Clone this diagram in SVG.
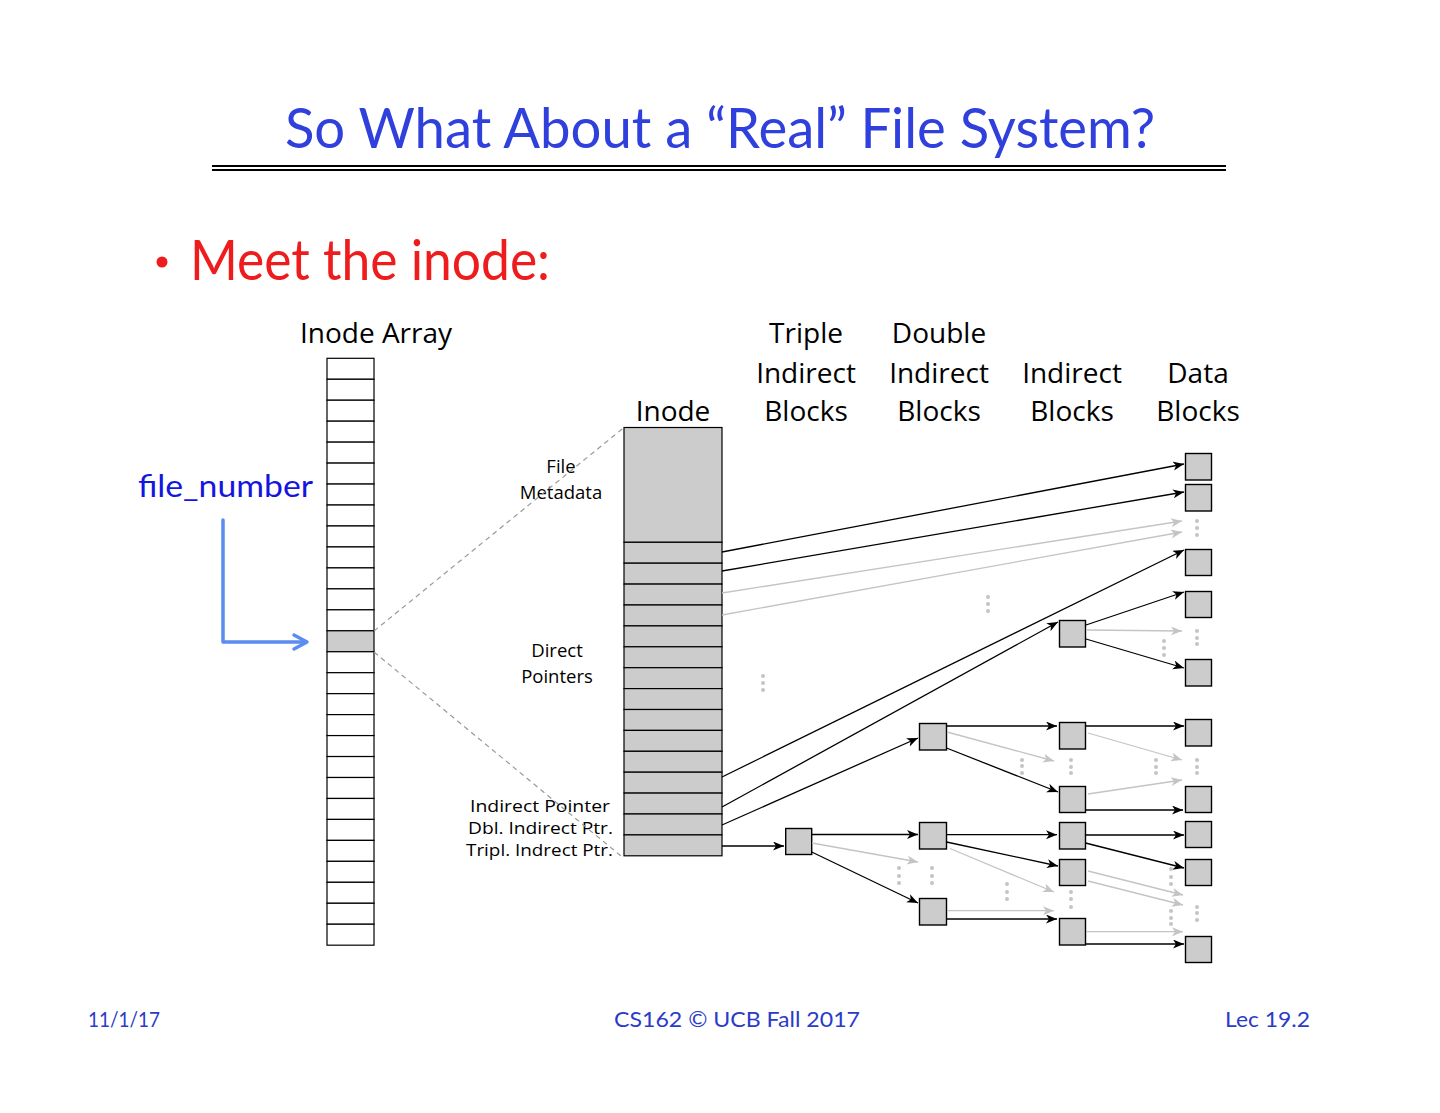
<svg xmlns="http://www.w3.org/2000/svg" width="1440" height="1113" viewBox="0 0 1440 1113">
<style>
.bg{fill:#ffffff}
.title{font-family:"Gill Sans","Gill Sans MT","Lato",sans-serif;fill:#3040dc}
.bullet{font-family:"Gill Sans","Gill Sans MT","Lato",sans-serif;fill:#ee1c1c}
.foot{font-family:"Gill Sans","Gill Sans MT","Lato",sans-serif;fill:#2b3bc8;font-size:22px}
.hdr{font-family:"Open Sans","Noto Sans",sans-serif;font-size:28px;fill:#000;text-anchor:middle}
.lbl{font-family:"Open Sans","Noto Sans",sans-serif;font-size:18.5px;fill:#000}
.lbs{font-family:"Open Sans","Noto Sans",sans-serif;font-size:16px;fill:#000}
.cell{fill:#ffffff;stroke:#000;stroke-width:1.2}
.gcell{fill:#cccccc;stroke:#000;stroke-width:1.2}
.blk{fill:#cccccc;stroke:#000;stroke-width:1.4}
.ln{stroke:#000;stroke-width:1.3;fill:none;marker-end:url(#ah)}
.gl{stroke:#c4c4c4;stroke-width:1.3;fill:none;marker-end:url(#ahg)}
.dash{stroke:#999;stroke-width:1.2;stroke-dasharray:5 4;fill:none}
.dot{fill:#c4c4c4}
.blue{stroke:#5b8cf0;stroke-width:3.5;fill:none;stroke-linecap:round;stroke-linejoin:round}
</style>
<defs>
<marker id="ah" markerUnits="userSpaceOnUse" markerWidth="12" markerHeight="10" refX="11" refY="4.5" orient="auto">
<path d="M0,0 L11,4.5 L0,9 L3,4.5 z" fill="#000"/>
</marker>
<marker id="ahg" markerUnits="userSpaceOnUse" markerWidth="12" markerHeight="10" refX="11" refY="4.5" orient="auto">
<path d="M0,0 L11,4.5 L0,9 L3,4.5 z" fill="#c4c4c4"/>
</marker>
</defs>
<rect class="bg" x="0" y="0" width="1440" height="1113"/>

<!-- Title -->
<text class="title" x="720" y="148" font-size="56" text-anchor="middle" textLength="870" lengthAdjust="spacingAndGlyphs">So What About a “Real” File System?</text>
<line x1="212" y1="166" x2="1226" y2="166" stroke="#000" stroke-width="1.8"/>
<line x1="212" y1="170" x2="1226" y2="170" stroke="#000" stroke-width="1.8"/>

<!-- Bullet -->
<circle cx="162" cy="262" r="5.5" fill="#ee1c1c"/>
<text class="bullet" x="190" y="280" font-size="56" textLength="360" lengthAdjust="spacingAndGlyphs">Meet the inode:</text>

<!-- Column headers -->
<text class="hdr" x="376" y="343">Inode Array</text>
<text class="hdr" x="673" y="421">Inode</text>
<text class="hdr" x="806" y="343">Triple</text>
<text class="hdr" x="806" y="383">Indirect</text>
<text class="hdr" x="806" y="421">Blocks</text>
<text class="hdr" x="939" y="343">Double</text>
<text class="hdr" x="939" y="383">Indirect</text>
<text class="hdr" x="939" y="421">Blocks</text>
<text class="hdr" x="1072" y="383">Indirect</text>
<text class="hdr" x="1072" y="421">Blocks</text>
<text class="hdr" x="1198" y="383">Data</text>
<text class="hdr" x="1198" y="421">Blocks</text>

<!-- file_number -->
<g id="file-number">
<text class="title" x="138" y="497" font-size="30" style="fill:#1515e0" textLength="175" lengthAdjust="spacingAndGlyphs">file_number</text>
<path class="blue" d="M223,520 V642 H305"/>
<polyline class="blue" points="294,635 307,642 294,649"/>
</g>

<!-- Inode array -->
<g id="inode-array">
<rect class="cell" x="327" y="358.3" width="47" height="20.96"/>
<rect class="cell" x="327" y="379.26" width="47" height="20.96"/>
<rect class="cell" x="327" y="400.22" width="47" height="20.96"/>
<rect class="cell" x="327" y="421.18" width="47" height="20.96"/>
<rect class="cell" x="327" y="442.14" width="47" height="20.96"/>
<rect class="cell" x="327" y="463.1" width="47" height="20.96"/>
<rect class="cell" x="327" y="484.06" width="47" height="20.96"/>
<rect class="cell" x="327" y="505.02" width="47" height="20.96"/>
<rect class="cell" x="327" y="525.98" width="47" height="20.96"/>
<rect class="cell" x="327" y="546.94" width="47" height="20.96"/>
<rect class="cell" x="327" y="567.9" width="47" height="20.96"/>
<rect class="cell" x="327" y="588.86" width="47" height="20.96"/>
<rect class="cell" x="327" y="609.82" width="47" height="20.96"/>
<rect class="gcell" x="327" y="630.78" width="47" height="20.96"/>
<rect class="cell" x="327" y="651.74" width="47" height="20.96"/>
<rect class="cell" x="327" y="672.7" width="47" height="20.96"/>
<rect class="cell" x="327" y="693.66" width="47" height="20.96"/>
<rect class="cell" x="327" y="714.62" width="47" height="20.96"/>
<rect class="cell" x="327" y="735.58" width="47" height="20.96"/>
<rect class="cell" x="327" y="756.54" width="47" height="20.96"/>
<rect class="cell" x="327" y="777.5" width="47" height="20.96"/>
<rect class="cell" x="327" y="798.46" width="47" height="20.96"/>
<rect class="cell" x="327" y="819.42" width="47" height="20.96"/>
<rect class="cell" x="327" y="840.38" width="47" height="20.96"/>
<rect class="cell" x="327" y="861.34" width="47" height="20.96"/>
<rect class="cell" x="327" y="882.3" width="47" height="20.96"/>
<rect class="cell" x="327" y="903.26" width="47" height="20.96"/>
<rect class="cell" x="327" y="924.22" width="47" height="20.96"/>
</g>

<!-- Inode -->
<g id="inode">
<rect class="gcell" x="624" y="427.5" width="98" height="114.8"/>
<rect class="gcell" x="624" y="542.3" width="98" height="20.9"/>
<rect class="gcell" x="624" y="563.2" width="98" height="20.9"/>
<rect class="gcell" x="624" y="584.1" width="98" height="20.9"/>
<rect class="gcell" x="624" y="605" width="98" height="20.9"/>
<rect class="gcell" x="624" y="625.9" width="98" height="20.9"/>
<rect class="gcell" x="624" y="646.8" width="98" height="20.9"/>
<rect class="gcell" x="624" y="667.7" width="98" height="20.9"/>
<rect class="gcell" x="624" y="688.6" width="98" height="20.9"/>
<rect class="gcell" x="624" y="709.5" width="98" height="20.9"/>
<rect class="gcell" x="624" y="730.4" width="98" height="20.9"/>
<rect class="gcell" x="624" y="751.3" width="98" height="20.9"/>
<rect class="gcell" x="624" y="772.2" width="98" height="20.9"/>
<rect class="gcell" x="624" y="793.1" width="98" height="20.9"/>
<rect class="gcell" x="624" y="814" width="98" height="20.9"/>
<rect class="gcell" x="624" y="834.9" width="98" height="20.9"/>
</g>

<!-- Inode labels -->
<g id="inode-labels">
<text class="lbl" x="561" y="473" text-anchor="middle">File</text>
<text class="lbl" x="561" y="499" text-anchor="middle">Metadata</text>
<text class="lbl" x="557" y="657" text-anchor="middle">Direct</text>
<text class="lbl" x="557" y="683" text-anchor="middle">Pointers</text>
<text class="lbs" x="470" y="812" textLength="140" lengthAdjust="spacingAndGlyphs">Indirect Pointer</text>
<text class="lbs" x="468" y="834" textLength="145" lengthAdjust="spacingAndGlyphs">Dbl. Indirect Ptr.</text>
<text class="lbs" x="466" y="856" textLength="147" lengthAdjust="spacingAndGlyphs">Tripl. Indrect Ptr.</text>
</g>

<!-- Triple indirect block -->
<g id="triple-1"><rect class="blk" x="785.7" y="828.5" width="26" height="26"/></g>

<!-- Double indirect blocks -->
<g id="double-1"><rect class="blk" x="919.5" y="723.5" width="27" height="26.5"/></g>
<g id="double-2"><rect class="blk" x="919.5" y="822.5" width="27" height="26.5"/></g>
<g id="double-3"><rect class="blk" x="919.5" y="898.5" width="27" height="26.5"/></g>

<!-- Indirect blocks -->
<g id="indirect-1"><rect class="blk" x="1059.5" y="620.5" width="26" height="26.5"/></g>
<g id="indirect-2"><rect class="blk" x="1059.5" y="722.5" width="26" height="26.5"/></g>
<g id="indirect-3"><rect class="blk" x="1059.5" y="786.5" width="26" height="26"/></g>
<g id="indirect-4"><rect class="blk" x="1059.5" y="822.5" width="26" height="26.5"/></g>
<g id="indirect-5"><rect class="blk" x="1059.5" y="859.5" width="26" height="26"/></g>
<g id="indirect-6"><rect class="blk" x="1059.5" y="918.5" width="26" height="26.5"/></g>

<!-- Data blocks -->
<g id="data-1"><rect class="blk" x="1185.5" y="453.5" width="26" height="26.5"/></g>
<g id="data-2"><rect class="blk" x="1185.5" y="484.5" width="26" height="26.5"/></g>
<g id="data-3"><rect class="blk" x="1185.5" y="549.5" width="26" height="26"/></g>
<g id="data-4"><rect class="blk" x="1185.5" y="591.5" width="26" height="26"/></g>
<g id="data-5"><rect class="blk" x="1185.5" y="659.5" width="26" height="26.5"/></g>
<g id="data-6"><rect class="blk" x="1185.5" y="719.5" width="26" height="26.5"/></g>
<g id="data-7"><rect class="blk" x="1185.5" y="786.5" width="26" height="26"/></g>
<g id="data-8"><rect class="blk" x="1185.5" y="821.5" width="26" height="26"/></g>
<g id="data-9"><rect class="blk" x="1185.5" y="859.5" width="26" height="26"/></g>
<g id="data-10"><rect class="blk" x="1185.5" y="936.5" width="26" height="26"/></g>

<!-- Connectors -->
<g id="connectors">
<line class="dash" x1="374" y1="631" x2="624" y2="427.5"/>
<line class="dash" x1="374" y1="652" x2="621" y2="856"/>

<line class="gl" x1="722" y1="593" x2="1182" y2="521"/>
<line class="gl" x1="722" y1="615" x2="1182" y2="532"/>
<line class="gl" x1="1087" y1="630" x2="1182" y2="631"/>
<line class="gl" x1="947" y1="732" x2="1054" y2="761"/>
<line class="gl" x1="1088" y1="733" x2="1182" y2="760"/>
<line class="gl" x1="1088" y1="794" x2="1182" y2="780"/>
<line class="gl" x1="812" y1="843" x2="918" y2="862"/>
<line class="gl" x1="950" y1="848.5" x2="1054" y2="892"/>
<line class="gl" x1="947" y1="910.7" x2="1054" y2="910.7"/>
<line class="gl" x1="1088" y1="871" x2="1183" y2="895"/>
<line class="gl" x1="1088" y1="881" x2="1183" y2="905"/>
<line class="gl" x1="1086" y1="931.7" x2="1183" y2="931.7"/>

<line class="ln" x1="722" y1="552" x2="1184" y2="464"/>
<line class="ln" x1="722" y1="571" x2="1184" y2="492"/>
<line class="ln" x1="722" y1="777" x2="1184" y2="550"/>
<line class="ln" x1="722" y1="807" x2="1058" y2="622"/>
<line class="ln" x1="722" y1="825" x2="918" y2="738"/>
<line class="ln" x1="722" y1="846" x2="784" y2="846"/>
<line class="ln" x1="1086" y1="625" x2="1184" y2="592"/>
<line class="ln" x1="1086" y1="639" x2="1184" y2="668"/>
<line class="ln" x1="946.5" y1="726" x2="1057" y2="726"/>
<line class="ln" x1="946.5" y1="748" x2="1058" y2="792"/>
<line class="ln" x1="1085.5" y1="726" x2="1184" y2="726"/>
<line class="ln" x1="1085.5" y1="810" x2="1183" y2="810"/>
<line class="ln" x1="811.7" y1="834.5" x2="918" y2="834.5"/>
<line class="ln" x1="811.7" y1="852" x2="918" y2="903"/>
<line class="ln" x1="946.5" y1="834.7" x2="1057" y2="834.7"/>
<line class="ln" x1="946.5" y1="842" x2="1058" y2="866"/>
<line class="ln" x1="946.5" y1="919" x2="1057" y2="919"/>
<line class="ln" x1="1085.5" y1="835" x2="1184" y2="835"/>
<line class="ln" x1="1085.5" y1="843" x2="1184" y2="868"/>
<line class="ln" x1="1085.5" y1="944" x2="1184" y2="944"/>
</g>

<!-- Ellipsis dots -->
<g id="ellipses">
<circle class="dot" cx="1197" cy="521" r="2"/><circle class="dot" cx="1197" cy="528" r="2"/><circle class="dot" cx="1197" cy="535" r="2"/>
<circle class="dot" cx="1197" cy="631" r="2"/><circle class="dot" cx="1197" cy="638" r="2"/><circle class="dot" cx="1197" cy="644" r="2"/>
<circle class="dot" cx="1164" cy="641" r="2"/><circle class="dot" cx="1164" cy="648" r="2"/><circle class="dot" cx="1164" cy="655" r="2"/>
<circle class="dot" cx="988" cy="597" r="2"/><circle class="dot" cx="988" cy="604" r="2"/><circle class="dot" cx="988" cy="611" r="2"/>
<circle class="dot" cx="763" cy="676" r="2"/><circle class="dot" cx="763" cy="683" r="2"/><circle class="dot" cx="763" cy="690" r="2"/>
<circle class="dot" cx="1071" cy="760" r="2"/><circle class="dot" cx="1071" cy="767" r="2"/><circle class="dot" cx="1071" cy="773" r="2"/>
<circle class="dot" cx="1156" cy="760" r="2"/><circle class="dot" cx="1156" cy="767" r="2"/><circle class="dot" cx="1156" cy="773" r="2"/>
<circle class="dot" cx="1197" cy="760" r="2"/><circle class="dot" cx="1197" cy="767" r="2"/><circle class="dot" cx="1197" cy="773" r="2"/>
<circle class="dot" cx="1022" cy="760" r="2"/><circle class="dot" cx="1022" cy="766" r="2"/><circle class="dot" cx="1022" cy="773" r="2"/>
<circle class="dot" cx="899" cy="868" r="2"/><circle class="dot" cx="899" cy="876" r="2"/><circle class="dot" cx="899" cy="883" r="2"/>
<circle class="dot" cx="932" cy="868" r="2"/><circle class="dot" cx="932" cy="876" r="2"/><circle class="dot" cx="932" cy="883" r="2"/>
<circle class="dot" cx="1007" cy="884" r="2"/><circle class="dot" cx="1007" cy="892" r="2"/><circle class="dot" cx="1007" cy="899" r="2"/>
<circle class="dot" cx="1071" cy="892" r="2"/><circle class="dot" cx="1071" cy="899" r="2"/><circle class="dot" cx="1071" cy="907" r="2"/>
<circle class="dot" cx="1171" cy="869" r="2"/><circle class="dot" cx="1171" cy="877" r="2"/><circle class="dot" cx="1171" cy="884" r="2"/>
<circle class="dot" cx="1171" cy="911" r="2"/><circle class="dot" cx="1171" cy="918" r="2"/><circle class="dot" cx="1171" cy="924" r="2"/>
<circle class="dot" cx="1197" cy="907" r="2"/><circle class="dot" cx="1197" cy="913" r="2"/><circle class="dot" cx="1197" cy="920" r="2"/>
</g>

<!-- Footer -->
<text class="foot" x="88" y="1027" textLength="72" lengthAdjust="spacingAndGlyphs">11/1/17</text>
<text class="foot" x="614" y="1027" textLength="246" lengthAdjust="spacingAndGlyphs">CS162 © UCB Fall 2017</text>
<text class="foot" x="1225" y="1027" textLength="85" lengthAdjust="spacingAndGlyphs">Lec 19.2</text>
</svg>
